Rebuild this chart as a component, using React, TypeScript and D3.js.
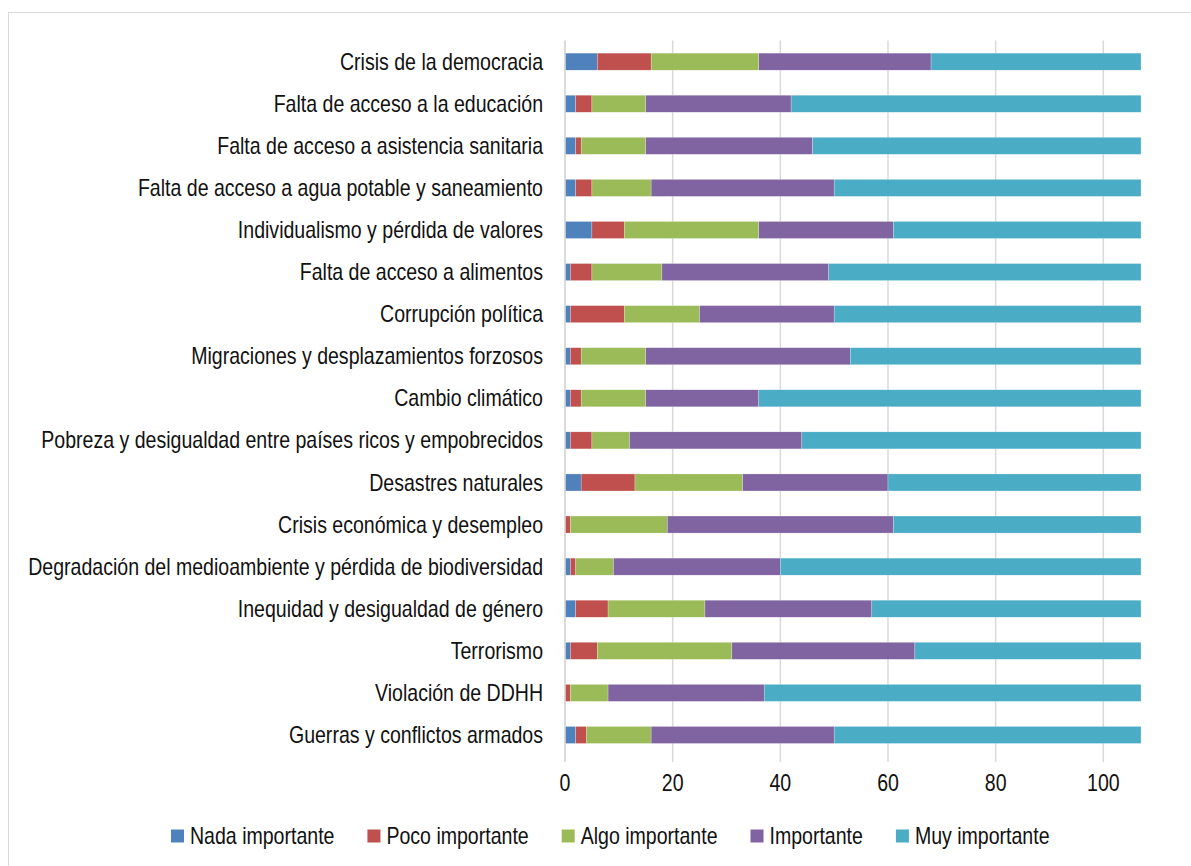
import React, { useEffect, useRef } from "react";
import * as d3 from "d3";

const categories = [
  "Crisis de la democracia",
  "Falta de acceso a la educación",
  "Falta de acceso a asistencia sanitaria",
  "Falta de acceso a agua potable y saneamiento",
  "Individualismo y pérdida de valores",
  "Falta de acceso a alimentos",
  "Corrupción política",
  "Migraciones y desplazamientos forzosos",
  "Cambio climático",
  "Pobreza y desigualdad entre países ricos y empobrecidos",
  "Desastres naturales",
  "Crisis económica y desempleo",
  "Degradación del medioambiente y pérdida de biodiversidad",
  "Inequidad y desigualdad de género",
  "Terrorismo",
  "Violación de DDHH",
  "Guerras y conflictos armados",
];

const seriesNames = ["Nada importante", "Poco importante", "Algo importante", "Importante", "Muy importante"];
const seriesColors = ["#4F81BD", "#C0504D", "#9BBB59", "#8064A2", "#4BACC6"];

const nada = [6, 2, 2, 2, 5, 1, 1, 1, 1, 1, 3, 0, 1, 2, 1, 0, 2];
const poco = [10, 3, 1, 3, 6, 4, 10, 2, 2, 4, 10, 1, 1, 6, 5, 1, 2];
const algo = [20, 10, 12, 11, 25, 13, 14, 12, 12, 7, 20, 18, 7, 18, 25, 7, 12];
const importante = [32, 27, 31, 34, 25, 31, 25, 38, 21, 32, 27, 42, 31, 31, 34, 29, 34];
const muy = [39, 65, 61, 57, 46, 58, 57, 54, 71, 63, 47, 46, 67, 50, 42, 70, 57];

const xTicks = [0, 20, 40, 60, 80, 100];

const FONT = "'Liberation Sans', Arial, sans-serif";
const SX = 0.85;
const FS = 23;

export default function App() {
  const ref = useRef<SVGSVGElement | null>(null);

  useEffect(() => {
    const svg = d3.select(ref.current);
    svg.selectAll("*").remove();

    const left = 565, right = 1141, top = 40.6, bottom = 756;

    svg.append("rect").attr("x", 8.5).attr("y", 12.5).attr("width", 1200).attr("height", 900)
      .attr("fill", "white").attr("stroke", "#D9D9D9").attr("stroke-width", 1);

    const x = d3.scaleLinear().domain([0, 107]).range([left, right]);
    const y = d3.scaleBand<string>().domain(categories).range([top, bottom]).paddingInner(0.595).paddingOuter(0.2975);

    const rows = categories.map((c, i) => ({
      cat: c,
      "Nada importante": nada[i],
      "Poco importante": poco[i],
      "Algo importante": algo[i],
      "Importante": importante[i],
      "Muy importante": muy[i],
    }));
    const stacked = d3.stack<any>().keys(seriesNames)(rows);

    svg.append("g").selectAll("line").data(xTicks).join("line")
      .attr("x1", d => x(d)).attr("x2", d => x(d))
      .attr("y1", top).attr("y2", bottom + 6)
      .attr("stroke", "#D9D9D9").attr("stroke-width", 1.5);

    svg.append("g").selectAll("g").data(stacked).join("g")
      .attr("fill", (_d, i) => seriesColors[i])
      .selectAll("rect").data(d => d.map(v => ({ v, cat: v.data.cat }))).join("rect")
      .attr("x", d => x(d.v[0]))
      .attr("width", d => Math.max(0, x(d.v[1]) - x(d.v[0])))
      .attr("y", d => y(d.cat)!)
      .attr("height", y.bandwidth())
      .attr("stroke", "white").attr("stroke-width", 0.4).attr("stroke-opacity", 0.6);

    svg.append("line").attr("x1", left).attr("x2", left).attr("y1", top).attr("y2", bottom + 6)
      .attr("stroke", "#D9D9D9").attr("stroke-width", 1.5);

    const narrowText = (sel: any) => sel
      .attr("font-family", FONT)
      .attr("font-size", FS)
      .attr("fill", "#111");

    svg.append("g").selectAll("text").data(categories).join("text")
      .attr("transform", d => `translate(${left - 22},${y(d)! + y.bandwidth() / 2}) scale(${SX},1)`)
      .attr("dy", "0.35em")
      .attr("text-anchor", "end")
      .call(narrowText)
      .text(d => d);

    svg.append("g").selectAll("text").data(xTicks).join("text")
      .attr("transform", d => `translate(${x(d)},783) scale(${SX},1)`)
      .attr("dy", "0.35em")
      .attr("text-anchor", "middle")
      .call(narrowText)
      .text(d => String(d));

    // legend: lay items out by measured text width
    const lg = svg.append("g").selectAll("g").data(seriesNames).join("g");
    lg.append("rect").attr("x", 0).attr("y", -6.5).attr("width", 13).attr("height", 13)
      .attr("fill", (_d, i) => seriesColors[i]);
    lg.append("text").attr("transform", `translate(19,0) scale(${SX},1)`).attr("dy", "0.35em")
      .call(narrowText)
      .text(d => d);
    let cx = 171;
    lg.each(function () {
      const g = d3.select(this as SVGGElement);
      g.attr("transform", `translate(${cx},836)`);
      const t = g.select("text").node() as SVGTextElement;
      const w = t.getComputedTextLength() * SX;
      cx += 19 + w + 33;
    });
  }, []);

  return (
    <svg ref={ref} width={1191} height={866} style={{ position: "absolute", left: 0, top: 0, display: "block" }} />
  );
}
